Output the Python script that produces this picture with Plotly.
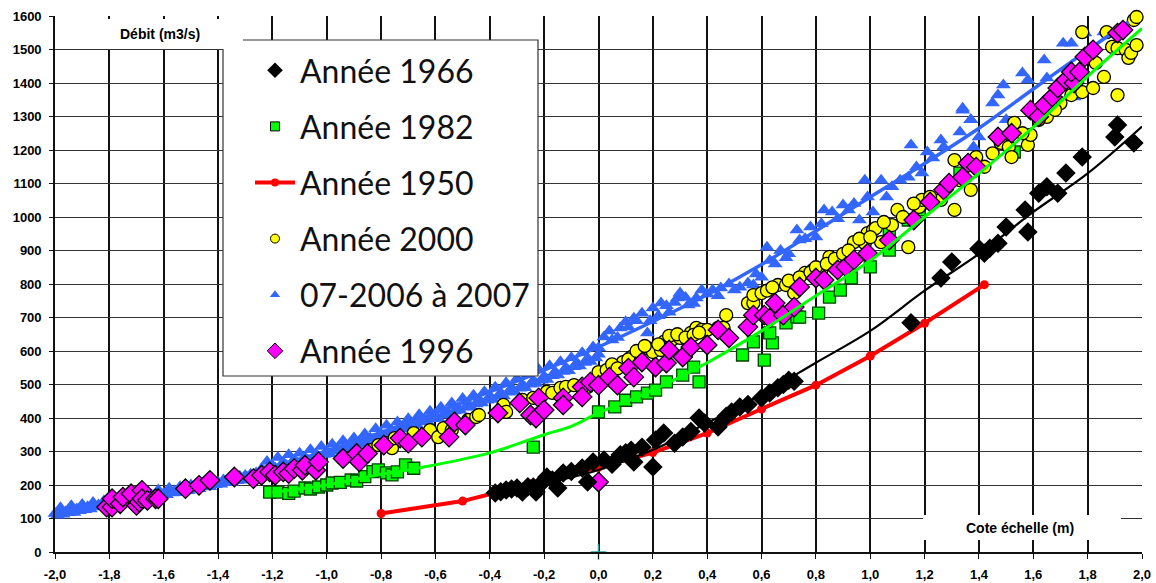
import plotly.graph_objects as go

# ---------------- data ----------------
# Année 1966 (black diamonds)
x66 = [-0.38,-0.36,-0.34,-0.32,-0.30,-0.28,-0.26,-0.24,-0.23,-0.21,-0.19,-0.17,-0.15,-0.13,-0.10,-0.06,-0.04,-0.02,0.02,0.05,
       0.08,0.10,0.12,0.13,0.16,0.20,0.21,0.24,0.28,0.31,0.34,0.37,0.39,0.44,0.47,0.49,0.52,0.55,0.60,0.63,
       0.66,0.68,0.70,0.72,1.15,1.26,1.30,1.40,1.42,1.44,1.47,1.50,1.57,1.58,1.62,1.65,1.69,1.72,1.78,1.90,
       1.91,1.97]
y66 = [176,180,185,188,191,179,195,194,179,205,224,215,191,236,240,251,209,269,275,262,
       290,296,304,269,313,254,334,355,325,343,360,400,385,373,405,418,433,440,460,475,
       490,500,513,510,684,818,866,905,892,907,922,970,1021,955,1071,1090,1071,1131,1179,1239,
       1275,1221]
# 1966 trend line
x66_fit = [-0.4,-0.2,0.0,0.2,0.4,0.6,0.8,1.0,1.2,1.4,1.6,1.8,2.0]
y66_fit = [175,205,245,305,385,470,565,660,780,890,1015,1130,1270]

# Année 1982 (green squares)
x82 = [-1.21,-1.18,-1.14,-1.12,-1.08,-1.06,-1.03,-1.00,-0.98,-0.95,-0.91,-0.89,-0.86,-0.83,-0.81,-0.78,-0.76,-0.74,-0.71,-0.68,
       -0.24,0.00,0.06,0.10,0.14,0.18,0.21,0.25,0.31,0.35,0.37,0.53,0.57,0.61,0.64,0.63,0.69,0.73,0.74,0.81,
       0.85,0.89,0.93,1.00,1.07,1.14,1.18,1.21,1.07,1.33,1.53]
y82 = [179,179,175,182,191,188,194,200,206,208,215,212,225,240,245,236,230,239,260,250,
       313,418,433,453,463,474,483,508,528,552,508,588,627,573,624,654,684,702,701,713,
       761,782,818,851,901,991,1021,1042,961,1131,1194]
# 1982 trend line
x82_fit = [-1.2,-1.0,-0.8,-0.66,-0.4,-0.2,-0.1,0.0,0.2,0.4,0.6,0.8,1.0,1.2,1.4,1.6,1.8,2.0]
y82_fit = [178,200,232,251,296,350,375,415,483,565,660,765,870,1000,1130,1268,1420,1563]

# Année 1950 (red line with dots)
x50 = [-0.8,-0.5,-0.25,0.0,0.2,0.4,0.6,0.8,1.0,1.2,1.42]
y50 = [115,152,203,253,297,355,427,498,585,683,798]

# Année 2000 (yellow circles)
x00 = [-0.94,-0.84,-0.81,-0.78,-0.76,-0.75,-0.68,-0.62,-0.59,-0.57,-0.54,-0.48,-0.45,-0.44,-0.35,-0.34,-0.28,-0.24,-0.19,-0.17,
       -0.14,-0.12,-0.09,-0.04,0.00,0.03,0.09,0.12,0.15,0.18,0.20,0.23,0.24,0.27,0.30,0.33,0.34,0.36,0.38,0.40,
       0.44,0.47,0.46,0.55,0.57,0.57,0.60,0.66,0.69,0.72,0.72,0.76,0.79,0.82,0.85,0.89,0.94,0.98,0.99,1.01,
       1.04,1.02,1.08,1.10,1.14,1.18,1.19,1.26,1.31,1.31,1.37,1.39,1.48,1.51,1.52,1.53,1.58,1.59,1.65,1.70,
       1.74,1.78,1.82,1.83,1.86,1.91,1.78,1.87,1.89,1.91,1.94,1.95,1.96,1.98,1.97,1.98,
       0.05,0.07,0.11,0.14,0.17,0.22,0.26,0.29,0.32,0.35,0.37,0.62,0.64,0.70,0.74,0.78,0.80,0.84,0.87,0.90,
       0.92,0.96,1.00,1.05,1.12,1.16,1.22,1.28,1.33,1.42,1.45,1.56,1.62,1.68]
y00 = [281,304,319,325,310,340,355,364,343,370,364,394,403,409,439,418,454,460,478,475,
       490,493,498,493,537,543,567,582,588,609,597,603,627,633,639,627,654,669,663,663,
       669,707,669,743,743,767,773,797,797,773,803,833,842,842,881,851,925,922,952,961,
       925,967,976,1021,910,1030,1051,1051,1021,1170,1081,1179,1221,1209,1179,1281,1215,1245,1299,1340,
       1364,1373,1385,1460,1418,1364,1552,1552,1508,1504,1499,1475,1490,1513,1588,1597,
       560,548,575,600,615,620,645,650,640,648,655,780,790,810,820,835,850,860,875,890,
       900,935,940,985,1000,1040,1060,1090,1110,1150,1190,1250,1290,1320]

# 07-2006 à 2007 (blue triangles)
x06 = [-2.00,-1.98,-1.96,-1.94,-1.92,-1.90,-1.88,-1.86,-1.84,-1.82,-1.80,-1.78,-1.76,-1.74,-1.72,-1.70,-1.68,-1.66,-1.64,-1.62,
       -1.60,-1.58,-1.56,-1.54,-1.52,-1.50,-1.48,-1.46,-1.44,-1.42,-1.40,-1.38,-1.36,-1.34,-1.32,-1.30,-1.28,-1.26,-1.24,-1.22,
       -1.20,-1.18,-1.16,-1.14,-1.12,-1.10,-1.08,-1.06,-1.04,-1.02,-1.00,-0.98,-0.96,-0.94,-0.92,-0.90,-0.88,-0.86,-0.84,-0.82,
       -0.80,-0.78,-0.76,-0.74,-0.72,-0.70,-0.68,-0.66,-0.64,-0.62,-0.60,-0.58,-0.56,-0.54,-0.52,-0.50,-0.48,-0.46,-0.44,-0.42,
       -0.40,-0.38,-0.36,-0.34,-0.32,-0.30,-0.28,-0.26,-0.24,-0.22,-0.20,-0.18,-0.16,-0.14,-0.12,-0.10,-0.08,-0.06,-0.04,-0.02,
       0.00,
       0.02,0.05,0.08,0.10,0.13,0.16,0.18,0.20,0.23,0.26,0.29,0.30,0.33,0.36,0.38,0.42,0.45,0.50,0.55,0.57,
       0.60,0.62,0.65,0.69,0.73,0.74,0.78,0.80,0.83,0.86,0.90,0.92,0.96,0.98,0.99,1.01,1.04,1.06,1.08,1.11,
       1.14,1.15,1.17,1.19,1.21,1.23,1.26,1.27,1.33,1.34,1.34,1.37,1.37,1.38,1.40,1.45,1.47,1.49,1.50,1.56,
       1.58,1.64,1.65,1.71,1.74,1.75,1.79,1.86,1.91,
       0.00,0.04,0.07,0.11,0.14,0.19,0.22,0.25,0.28,0.32,0.35,0.40,0.44,0.48,0.52,0.58,
       0.63,0.67,0.70,0.76,0.82,0.88,0.94,
       -1.99,-1.97,-1.95,-1.93,-1.91,-1.89,-1.87,-1.85,-1.83,-1.81,-1.79,-1.77,-1.75,-1.73,-1.71,-1.69,-1.67,-1.65,-1.63,-1.61,
       -1.59,-1.57,-1.55,-1.53,-1.51,-1.49,-1.47,-1.45,-1.43,-1.41,-1.39,-1.37,-1.35,-1.33,-1.31,-1.29,-1.27,-1.25,-1.23,-1.21,
       -1.19,-1.17,-1.15,-1.13,-1.11,-1.09,-1.07,-1.05,-1.03,-1.01,-0.99,-0.97,-0.95,-0.93,-0.91,-0.89,-0.87,-0.85,-0.83,-0.81,
       -0.79,-0.77,-0.75,-0.73,-0.71,-0.69,-0.67,-0.65,-0.63,-0.61,-0.59,-0.57,-0.55,-0.53,-0.51,-0.49,-0.47,-0.45,-0.43,-0.41,
       -0.39,-0.37,-0.35,-0.33,-0.31,-0.29,-0.27,-0.25,-0.23,-0.21,-0.19,-0.17,-0.15,-0.13,-0.11,-0.09,-0.07,-0.05,-0.03,-0.01]
y06 = [115,132,120,138,128,142,135,148,140,152,145,160,150,165,155,170,160,178,168,185,
       175,190,182,195,188,200,192,205,200,212,208,215,218,222,226,228,232,236,248,270,
       258,282,268,290,275,295,282,305,292,315,300,322,310,332,318,340,330,352,340,368,
       352,378,362,388,375,398,385,410,395,420,408,432,418,445,430,458,442,468,455,478,
       465,492,475,505,490,518,500,530,512,545,525,556,538,568,550,580,565,595,578,612,
       590,
       642,633,669,687,698,713,654,728,743,716,758,773,737,758,782,782,788,782,803,797,
       820,910,860,878,961,931,970,940,1021,1015,1036,1021,991,1110,1060,1015,1110,1060,1090,1110,
       1119,1215,1149,1131,1194,1176,1230,1209,1254,1325,1319,1290,1290,1209,1239,1340,1364,1394,1290,1430,
       1409,1469,1415,1519,1519,1358,1549,1552,1552,
       610,660,640,672,690,690,705,735,745,760,742,770,765,800,790,830,
       870,900,890,935,980,995,1040,
       110,113,117,118,123,126,128,134,135,139,143,144,149,150,155,157,159,164,165,170,
       171,176,177,182,183,188,189,194,195,201,202,207,208,213,214,219,221,227,240,250,
       251,257,259,266,267,273,275,281,284,291,293,301,303,311,312,321,324,333,336,345,
       347,356,358,367,369,378,380,388,390,398,399,409,411,421,423,432,433,442,445,453,
       455,465,466,477,479,489,490,501,503,513,515,526,528,539,541,553,555,566,569,579]
# 2006-2007 trend line
x06_fit = [-2.0,-1.8,-1.6,-1.4,-1.2,-1.0,-0.8,-0.6,-0.4,-0.2,0.0,0.2,0.4,0.6,0.8,1.0,1.2,1.4,1.6,1.8,1.95]
y06_fit = [118,142,172,212,255,302,357,415,478,543,612,688,768,858,958,1060,1160,1265,1382,1498,1582]

# Année 1996 (magenta diamonds)
x96 = [-1.81,-1.79,-1.79,-1.76,-1.75,-1.72,-1.70,-1.69,-1.68,-1.68,-1.66,-1.63,-1.62,-1.52,-1.47,-1.43,-1.34,-1.27,-1.24,-1.21,
       -1.19,-1.16,-1.14,-1.12,-1.09,-1.08,-1.04,-1.03,-0.94,-0.89,-0.88,-0.85,-0.79,-0.73,-0.70,-0.65,-0.55,-0.53,-0.49,-0.37,
       -0.29,-0.25,-0.23,-0.22,-0.20,-0.13,-0.13,-0.06,-0.06,-0.03,0.00,0.04,0.07,0.11,0.13,0.16,0.21,0.25,0.26,0.31,
       0.34,0.40,0.44,0.48,0.55,0.57,0.61,0.63,0.65,0.68,0.72,0.74,0.80,0.83,0.88,0.91,0.94,0.99,1.07,1.16,
       1.22,1.27,1.29,1.34,1.36,1.39,1.47,1.52,1.59,1.62,1.64,1.67,1.69,1.72,1.75,1.74,1.77,1.79,1.82,1.91,
       1.93,1.99,0.00]
y96 = [134,134,159,144,164,174,139,149,184,159,154,159,159,189,199,214,224,219,229,239,
       229,239,234,249,244,259,244,269,279,294,269,294,319,340,325,343,343,388,379,415,
       445,409,400,460,424,460,439,493,463,507,498,522,498,549,522,567,552,564,603,582,
       612,618,663,639,672,707,707,698,743,707,731,791,818,812,842,851,872,892,931,991,
       1045,1081,1101,1119,1161,1149,1239,1250,1319,1299,1334,1358,1385,1409,1400,1433,1433,1478,1499,1549,
       1558,1603,209]

# axis ticks
x_ticks = [-2.0,-1.8,-1.6,-1.4,-1.2,-1.0,-0.8,-0.6,-0.4,-0.2,0.0,0.2,0.4,0.6,0.8,1.0,1.2,1.4,1.6,1.8,2.0]
x_tick_text = ["-2,0","-1,8","-1,6","-1,4","-1,2","-1,0","-0,8","-0,6","-0,4","-0,2","0,0",
               "0,2","0,4","0,6","0,8","1,0","1,2","1,4","1,6","1,8","2,0"]
y_ticks = [0,100,200,300,400,500,600,700,800,900,1000,1100,1200,1300,1400,1500,1600]
y_tick_text = [str(v) for v in y_ticks]

names = ["Année 1966", "Année 1982", "Année 1950", "Année 2000", "07-2006 à 2007", "Année 1996"]

# ---------------- styles ----------------
BLACK = "#000000"
GREEN = "#00ff00"
RED = "#ff0000"
YELLOW = "#ffff00"
BLUE = "#3366ff"
MAGENTA = "#ff00ff"

fig = go.Figure()

# plot marks (no legend) - drawing order bottom to top
fig.add_trace(go.Scatter(x=x06, y=y06, mode="markers", showlegend=False, cliponaxis=False,
                         marker=dict(symbol="triangle-up", size=13, color=BLUE, line=dict(width=0))))
fig.add_trace(go.Scatter(x=x82, y=y82, mode="markers", showlegend=False, cliponaxis=False,
                         marker=dict(symbol="square", size=12, color=GREEN, line=dict(width=1.3, color="#004400"))))
fig.add_trace(go.Scatter(x=x00, y=y00, mode="markers", showlegend=False, cliponaxis=False,
                         marker=dict(symbol="circle", size=13, color=YELLOW, line=dict(width=1.3, color=BLACK))))
fig.add_trace(go.Scatter(x=x06_fit, y=y06_fit, mode="lines", showlegend=False,
                         line=dict(color=BLUE, width=3.5, shape="spline")))
fig.add_trace(go.Scatter(x=x96, y=y96, mode="markers", showlegend=False, cliponaxis=False,
                         marker=dict(symbol="diamond", size=15, color=MAGENTA, line=dict(width=1.3, color=BLACK))))
fig.add_trace(go.Scatter(x=x82_fit, y=y82_fit, mode="lines", showlegend=False,
                         line=dict(color=GREEN, width=3, shape="spline")))
fig.add_trace(go.Scatter(x=x50, y=y50, mode="lines+markers", showlegend=False,
                         line=dict(color=RED, width=4), marker=dict(symbol="circle", size=9, color=RED)))
fig.add_trace(go.Scatter(x=x66, y=y66, mode="markers", showlegend=False, cliponaxis=False,
                         marker=dict(symbol="diamond", size=15, color=BLACK, line=dict(width=0))))
fig.add_trace(go.Scatter(x=x66_fit, y=y66_fit, mode="lines", showlegend=False,
                         line=dict(color=BLACK, width=2.2, shape="spline")))
fig.add_trace(go.Scatter(x=[0.0], y=[0], mode="markers", showlegend=False, cliponaxis=False,
                         marker=dict(symbol="cross-thin", size=11, line=dict(width=1.5, color="#2a9d9d"))))

# legend entries
leg_specs = [
    dict(mode="markers", marker=dict(symbol="diamond", size=12, color=BLACK)),
    dict(mode="markers", marker=dict(symbol="square", size=9, color=GREEN, line=dict(width=1, color=BLACK))),
    dict(mode="lines+markers", line=dict(color=RED, width=4), marker=dict(symbol="circle", size=8, color=RED)),
    dict(mode="markers", marker=dict(symbol="circle", size=9, color=YELLOW, line=dict(width=1, color=BLACK))),
    dict(mode="markers", marker=dict(symbol="triangle-up", size=9, color=BLUE)),
    dict(mode="markers", marker=dict(symbol="diamond", size=12, color=MAGENTA, line=dict(width=1, color=BLACK))),
]
for i, (nm, spec) in enumerate(zip(names, leg_specs)):
    fig.add_trace(go.Scatter(x=[None], y=[None], name=nm, legendgroup=f"g{i}", legendrank=i + 1, **spec))

# ---------------- layout ----------------
L, R, T, B = 55, 14, 16, 31
W, H = 1156, 583
pw, ph = W - L - R, H - T - B

def px(xp):
    return (xp - L) / pw

def py(yp):
    return (H - B - yp) / ph

tick_font = dict(family="Liberation Sans, Arial, sans-serif", size=13, color="#000000", weight=700)

fig.update_layout(
    width=W, height=H,
    margin=dict(l=L, r=R, t=T, b=B, pad=0, autoexpand=False),
    paper_bgcolor="white", plot_bgcolor="white",
    hovermode=False,
    xaxis=dict(range=[-2.0, 2.0], tickvals=x_ticks, ticktext=x_tick_text, automargin=False,
               showgrid=True, gridcolor="#111111", gridwidth=1.6, zeroline=False,
               showline=True, linecolor="#111111", linewidth=1.6, mirror=False,
               ticks="outside", ticklen=5, tickcolor="#111111", tickwidth=1.4,
               tickfont=tick_font, ticklabelstandoff=5, fixedrange=True),
    yaxis=dict(range=[0, 1600], tickvals=y_ticks, ticktext=y_tick_text, automargin=False,
               showgrid=True, gridcolor="#333333", gridwidth=1.2, zeroline=False,
               showline=True, linecolor="#111111", linewidth=1.6,
               ticks="outside", ticklen=4, tickcolor="#111111", tickwidth=1.2,
               tickfont=tick_font, ticklabelstandoff=5, fixedrange=True),
    legend=dict(x=px(250), y=py(43), xanchor="left", yanchor="top",
                bgcolor="rgba(0,0,0,0)", borderwidth=0, tracegroupgap=11.5,
                font=dict(family="Lato, Noto Sans, sans-serif", size=32, color="#111111"),
                itemwidth=40),
    shapes=[
        dict(type="rect", xref="paper", yref="paper", x0=px(223), x1=px(538), y0=py(376), y1=py(40),
             fillcolor="white", line=dict(color="#333333", width=1.2), layer="above"),
        dict(type="rect", xref="paper", yref="paper", x0=px(80), x1=px(243), y0=py(49), y1=py(19),
             fillcolor="white", line=dict(width=0), layer="above"),
        dict(type="rect", xref="paper", yref="paper", x0=px(923), x1=px(1121), y0=py(540), y1=py(515),
             fillcolor="white", line=dict(width=0), layer="above"),
    ],
    annotations=[
        dict(text="Débit (m3/s)", xref="paper", yref="paper", x=px(160), y=py(34),
             showarrow=False, xanchor="center", yanchor="middle",
             font=dict(family="Liberation Sans, Arial, sans-serif", size=14, color="#000000", weight=700)),
        dict(text="Cote échelle (m)", xref="paper", yref="paper", x=px(1020), y=py(528),
             showarrow=False, xanchor="center", yanchor="middle",
             font=dict(family="Liberation Sans, Arial, sans-serif", size=14, color="#000000", weight=700)),
    ],
)

# remove the default page margin so the 1156x583 figure fills the window exactly
fig.write_html("out.html", config={"displayModeBar": False, "responsive": False},
               post_script="document.body.style.margin='0';document.body.style.overflow='hidden';")
